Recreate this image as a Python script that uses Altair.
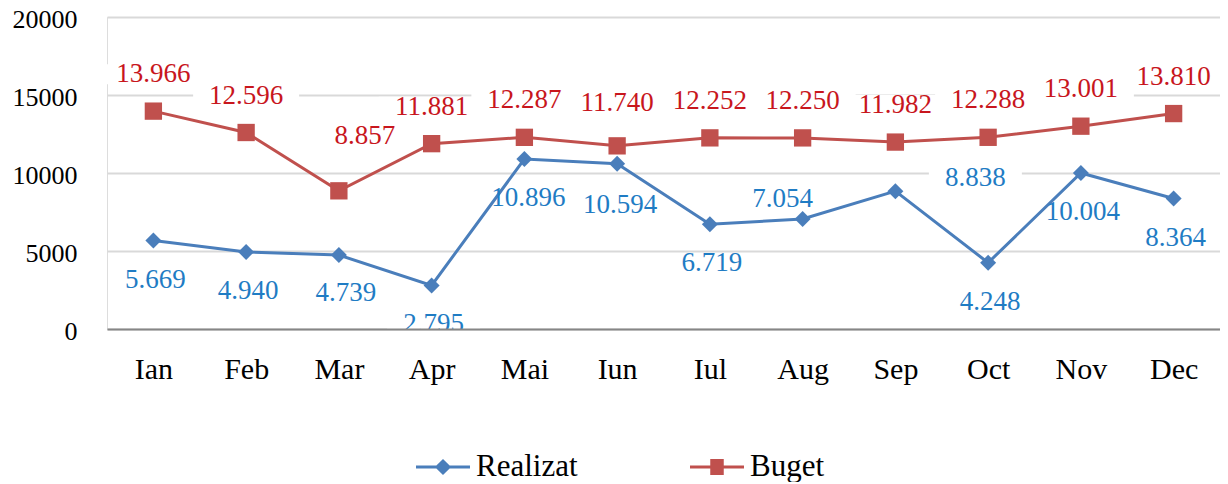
import altair as alt
import pandas as pd

months = ["Ian", "Feb", "Mar", "Apr", "Mai", "Iun", "Iul", "Aug", "Sep", "Oct", "Nov", "Dec"]
realizat = [5669, 4940, 4739, 2795, 10896, 10594, 6719, 7054, 8838, 4248, 10004, 8364]
buget = [13966, 12596, 8857, 11881, 12287, 11740, 12252, 12250, 11982, 12288, 13001, 13810]
realizat_labels = ["5.669", "4.940", "4.739", "2.795", "10.896", "10.594", "6.719", "7.054", "8.838", "4.248", "10.004", "8.364"]
buget_labels = ["13.966", "12.596", "8.857", "11.881", "12.287", "11.740", "12.252", "12.250", "11.982", "12.288", "13.001", "13.810"]
series = ["Realizat", "Buget"]

rows = []
for i, m in enumerate(months):
    rows.append({"month": m, "serie": "Realizat", "value": realizat[i], "label": realizat_labels[i]})
    rows.append({"month": m, "serie": "Buget", "value": buget[i], "label": buget_labels[i]})
df = pd.DataFrame(rows)

FONT = "Liberation Serif"
BLUE = "#4a7ebb"
RED = "#c0504d"
BLUE_T = "#1f7cc4"
RED_T = "#c8161d"

diamond_line = "M-1,-0.055L-0.245,-0.055L0,-0.3L0.245,-0.055L1,-0.055L1,0.055L0.245,0.055L0,0.3L-0.245,0.055L-1,0.055Z"
square_line = "M-1,-0.055L-0.25,-0.055L-0.25,-0.3L0.25,-0.3L0.25,-0.055L1,-0.055L1,0.055L0.25,0.055L0.25,0.3L-0.25,0.3L-0.25,0.055L-1,0.055Z"
BOX5 = "M-0.93,-0.2H0.93V0.2H-0.93Z"
BOX6 = "M-1.06,-0.2H1.06V0.2H-1.06Z"

x = alt.X("month:N", sort=months, scale=alt.Scale(type="point", padding=0.5),
          axis=alt.Axis(title=None, labelAngle=0, ticks=False, labelFont=FONT, labelFontSize=30,
                        labelColor="#000000", labelPadding=25, domainColor="#868686", domainWidth=2,
                        zindex=1))
y = alt.Y("value:Q", scale=alt.Scale(domain=[0, 20000], nice=False),
          axis=alt.Axis(title=None, values=[0, 5000, 10000, 15000, 20000], ticks=False, domain=False,
                        labelFont=FONT, labelFontSize=26, labelColor="#000000", labelPadding=30,
                        labelOffset=2, gridColor="#d9d9d9", gridWidth=2, format="d"))

leg = alt.Legend(title=None, orient="none", direction="horizontal",
                 legendX=309, legendY=423, labelFont=FONT, labelFontSize=31,
                 labelColor="#000000", symbolSize=2916, symbolStrokeWidth=0,
                 columnPadding=112, labelOffset=6)
color_leg = alt.Color("serie:N", scale=alt.Scale(domain=series, range=[BLUE, RED]), legend=leg)
shape_leg = alt.Shape("serie:N", scale=alt.Scale(domain=series, range=[diamond_line, square_line]), legend=leg)

base = alt.Chart(df)
base_r = base.transform_filter(alt.datum.serie == "Realizat")
base_b = base.transform_filter(alt.datum.serie == "Buget")

boxes = []
texts = []


def labels(flt, dx, dy, color, clip=False):
    b = base.transform_filter(flt)
    for n, path in ((5, BOX5), (6, BOX6)):
        boxes.append(b.transform_filter(f"length(datum.label) == {n}").mark_point(
            shape=path, size=10000, filled=True, color="white", opacity=1, strokeWidth=0,
            xOffset=dx, yOffset=dy, clip=clip).encode(x=x, y=y))
    texts.append(b.mark_text(dx=dx, dy=dy, color=color, font=FONT, fontSize=27, baseline="middle",
                             align="center", clip=clip).encode(x=x, y=y, text="label:N"))


# Buget labels (above)
labels("datum.serie == 'Buget' && indexof(['Mar','Iun'], datum.month) < 0", 0, -37, RED_T)
labels("datum.serie == 'Buget' && datum.month == 'Mar'", 26, -55, RED_T)
labels("datum.serie == 'Buget' && datum.month == 'Iun'", 0, -43, RED_T)
# Realizat labels
labels("datum.serie == 'Realizat' && indexof(['Ian','Feb','Apr','Iul','Oct','Nov','Dec'], datum.month) >= 0",
       2, 39, BLUE_T, clip=True)
labels("datum.serie == 'Realizat' && datum.month == 'Mar'", 7, 38, BLUE_T)
labels("datum.serie == 'Realizat' && datum.month == 'Mai'", 4, 39, BLUE_T)
labels("datum.serie == 'Realizat' && datum.month == 'Iun'", 3, 41, BLUE_T)
labels("datum.serie == 'Realizat' && datum.month == 'Aug'", -20, -20, BLUE_T)
labels("datum.serie == 'Realizat' && datum.month == 'Sep'", 80, -13, BLUE_T)

line_r = base_r.mark_line(strokeWidth=3, color=BLUE).encode(x=x, y=y)
line_b = base_b.mark_line(strokeWidth=3, color=RED).encode(x=x, y=y)
pts_r = base_r.mark_point(shape="diamond", filled=True, size=256, opacity=1, color=BLUE).encode(x=x, y=y)
pts_b = base_b.mark_point(shape="square", filled=True, size=300, opacity=1, color=RED).encode(x=x, y=y)
legend_layer = base.transform_filter("false").mark_point(filled=True, opacity=1).encode(
    x=x, y=y, color=color_leg, shape=shape_leg)

chart = alt.layer(*boxes, line_r, line_b, pts_r, pts_b, legend_layer, *texts).properties(
    width=1113, height=312,
    autosize=alt.AutoSizeParams(type="none"),
    padding={"left": 99, "top": 9, "right": 0, "bottom": 153},
).configure_view(stroke=None).configure(background="white")

chart.save("out.html", embed_options={"renderer": "svg", "actions": False})
